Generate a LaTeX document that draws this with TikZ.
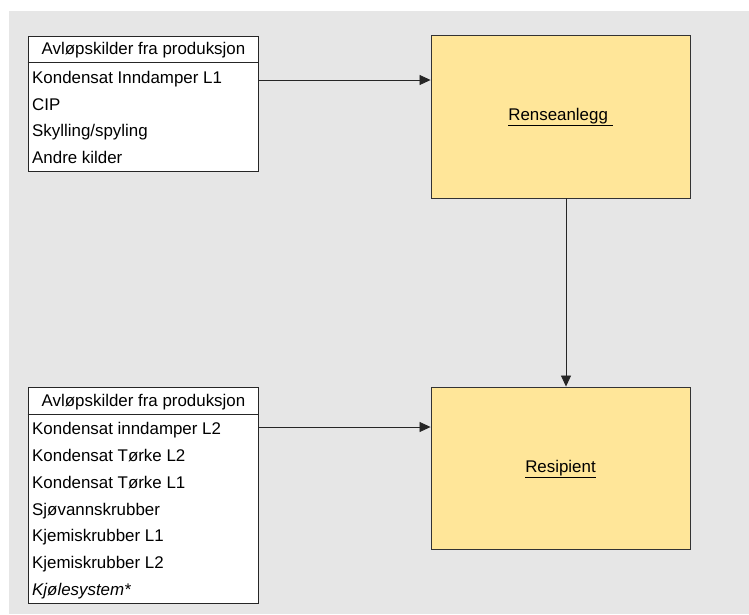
\documentclass[tikz,border=0pt]{standalone}
\usepackage{fontspec}
\setmainfont{Liberation Sans}
\usepackage{tikz}
\usetikzlibrary{arrows.meta}
\definecolor{bggray}{HTML}{E6E6E6}
\definecolor{tankyellow}{HTML}{FFE699}

\begin{document}
\begin{tikzpicture}[x=1pt,y=-1pt,
    listbox/.style={rectangle,draw=black!85,fill=white,line width=0.9pt,minimum width=230pt,inner sep=0pt},
    plantbox/.style={rectangle,draw=black!80,fill=tankyellow,line width=0.9pt,minimum width=259pt,inner sep=0pt},
    txt/.style={font=\fontsize{16.9}{19}\selectfont,inner sep=0pt,text height=12pt,text depth=3.5pt},
    flow/.style={-{Triangle[length=11pt,width=10pt]},line width=0.8pt,black!85}]
  \useasboundingbox (0,0) rectangle (749,614);
  \fill[bggray] (9,11) rectangle (749,614);
  % source lists
  \node[listbox,minimum height=135pt] (srcA) at (143,103.5) {};
  \node[txt] (headA) at (143.5,50.5) {Avløpskilder fra produksjon};
  \draw[black!85,line width=0.9pt] (srcA.west |- 0,62) -- (srcA.east |- 0,62);
  \foreach \i/\item in {0/Kondensat Inndamper L1, 1/CIP, 2/{Skylling/spyling}, 3/Andre kilder} {
    \node[txt,anchor=west] (rowA\i) at (32,79.5+26.5*\i) {\item};
  }
  \node[listbox,minimum height=216pt] (srcB) at (143,495) {};
  \node[txt] (headB) at (143.5,402) {Avløpskilder fra produksjon};
  \draw[black!85,line width=0.9pt] (srcB.west |- 0,414) -- (srcB.east |- 0,414);
  \foreach \i/\item in {0/Kondensat inndamper L2, 1/Kondensat Tørke L2, 2/Kondensat Tørke L1,
      3/Sjøvannskrubber, 4/Kjemiskrubber L1, 5/Kjemiskrubber L2, 6/\textit{Kjølesystem*}} {
    \node[txt,anchor=west] (rowB\i) at (32,430.5+26.8*\i) {\item};
  }
  % treatment and recipient
  \node[plantbox,minimum height=163pt] (rens) at (560.5,116.5) {};
  \node[txt] (rensText) at (rens.center) {\underline{Renseanlegg\ }};
  \node[plantbox,minimum height=162pt] (resi) at (560.5,468) {};
  \node[txt] (resiText) at (resi.center) {\underline{Resipient}};
  % flows
  \draw[flow] (srcA.east |- 0,80) -- (rens.west |- 0,80);
  \draw[flow] (srcB.east |- 0,427) -- (resi.west |- 0,427);
  \draw[flow] ([xshift=5.5pt]rens.south) -- ([xshift=5.5pt]resi.north);
\end{tikzpicture}
\end{document}
